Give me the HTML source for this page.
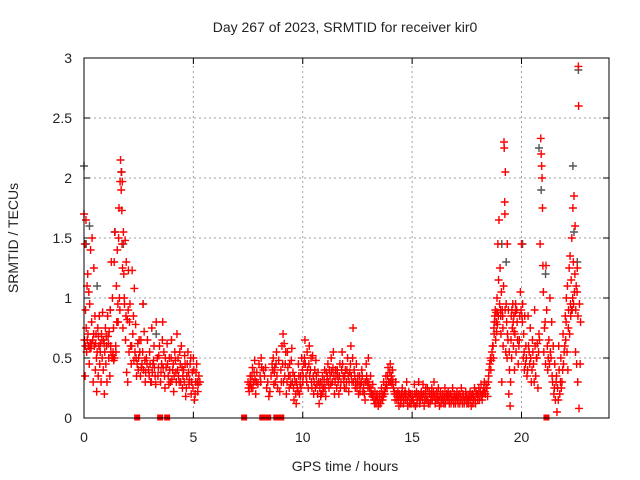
<!DOCTYPE html>
<html><head><meta charset="utf-8"><style>
html,body{margin:0;padding:0;background:#fff;}
svg{display:block;font-family:"Liberation Sans",sans-serif;}
</style></head><body>
<svg id="chart" width="640" height="480" viewBox="0 0 640 480" xmlns="http://www.w3.org/2000/svg">
<rect x="0" y="0" width="640" height="480" fill="#fff"/>
<text x="345" y="32" text-anchor="middle" font-size="14" fill="#222">Day 267 of 2023, SRMTID for receiver kir0</text>
<text x="345" y="471" text-anchor="middle" font-size="14" fill="#222">GPS time / hours</text>
<text x="18" y="238" text-anchor="middle" font-size="14" fill="#222" transform="rotate(-90 18 238)">SRMTID / TECUs</text>
<g id="grid"></g>
<g id="ticks"></g>
<g id="gray"></g>
<g id="red"></g>
<rect x="84" y="58" width="525" height="360" fill="none" stroke="#000" stroke-width="1"/>
</svg>
<script>
const xTicks=[0,5,10,15,20];
const yTicks=[0,0.5,1,1.5,2,2.5,3];
const yTickLabels=["0","0.5","1","1.5","2","2.5","3"];
const zeroTimes=[2.43,3.48,3.80,7.32,8.15,8.42,8.79,9.02,21.14];
const grayPts=[[0,2.1],[0.1,1.45],[0.25,1.6],[1.4,1.55],[1.7,2.05],[1.8,1.45],[2.7,0.95],[3.3,0.7],[19.1,1.45],[19.3,1.3],[20.05,1.45],[20.8,2.25],[20.9,1.9],[21.1,1.2],[22.35,2.1],[22.6,2.9],[22.55,1.3],[22.4,1.55],[0.6,1.1],[1.2,0.9]];
const redPts=[
[0.0,1.7],[0.02,0.65],[0.04,1.45],[0.05,0.35],[0.07,0.9],[0.09,1.65],[0.1,0.75],[0.12,0.55],[0.14,1.1],[0.15,0.65],[0.17,1.2],[0.2,0.6],[0.22,1.05],[0.24,0.45],[0.26,0.95],[0.28,0.62],[0.3,1.4],[0.32,0.58],[0.35,0.8],[0.37,1.5],[0.4,0.65],[0.42,0.3],[0.45,1.25],[0.47,0.6],[0.5,0.85],[0.52,0.4],[0.55,0.7],[0.58,0.22],[0.6,0.55],[0.63,0.75],[0.65,0.35],[0.68,0.6],[0.7,0.85],[0.72,0.45],[0.75,0.62],[0.78,0.3],[0.8,0.7],[0.83,0.5],[0.85,0.88],[0.88,0.4],[0.9,0.65],[0.93,0.2],[0.95,0.55],[0.98,0.75],[1.0,0.45],[1.03,0.6],[1.05,0.3],[1.08,0.85],[1.1,0.68],[1.13,0.5],[1.15,0.72],[1.18,0.35],[1.2,0.9],[1.23,0.55],[1.25,1.3],[1.28,0.5],[1.3,1.0],[1.33,0.55],[1.35,0.75],[1.38,1.3],[1.4,0.5],[1.42,1.55],[1.45,0.6],[1.48,1.1],[1.5,0.8],[1.52,1.4],[1.55,0.95],[1.58,1.5],[1.6,1.75],[1.62,1.0],[1.65,1.97],[1.67,2.15],[1.7,1.9],[1.72,2.05],[1.74,1.45],[1.76,1.25],[1.78,0.75],[1.8,1.55],[1.82,1.2],[1.85,0.95],[1.88,1.48],[1.9,0.65],[1.93,1.3],[1.95,0.38],[1.98,0.82],[2.0,0.3],[2.03,1.23],[2.06,0.55],[2.1,0.95],[2.13,0.6],[2.16,0.45],[2.2,1.23],[2.23,0.7],[2.26,0.85],[2.3,1.08],[2.33,0.55],[2.36,0.78],[2.4,0.35],[2.43,0.45],[2.46,0.62],[2.5,0.5],[2.55,0.55],[2.6,0.65],[2.65,0.45],[2.7,0.95],[2.72,0.4],[2.75,0.72],[2.8,0.3],[2.85,0.5],[2.9,0.65],[2.95,0.4],[3.0,0.55],[3.05,0.3],[3.1,0.75],[3.15,0.45],[3.2,0.6],[3.25,0.35],[3.3,0.8],[3.35,0.5],[3.4,0.42],[3.45,0.6],[3.5,0.3],[3.55,0.45],[3.6,0.8],[3.65,0.55],[3.7,0.25],[3.75,0.42],[3.8,0.62],[3.85,0.35],[3.9,0.5],[3.95,0.3],[4.0,0.65],[4.05,0.4],[4.1,0.22],[4.15,0.55],[4.2,0.38],[4.25,0.7],[4.3,0.5],[4.35,0.3],[4.4,0.45],[4.45,0.6],[4.5,0.25],[4.55,0.4],[4.6,0.52],[4.65,0.18],[4.7,0.35],[4.75,0.55],[4.8,0.28],[4.85,0.45],[4.9,0.2],[4.95,0.38],[5.0,0.5],[5.05,0.15],[5.1,0.3],[5.15,0.45],[5.2,0.22],[5.25,0.35],[5.3,0.3],
[7.5,0.3],[7.55,0.22],[7.6,0.35],[7.65,0.25],[7.7,0.42],[7.75,0.3],[7.8,0.48],[7.85,0.2],[7.9,0.38],[7.95,0.28],[8.0,0.45],[8.05,0.35],[8.1,0.5],[8.2,0.4],[8.25,0.35],[8.3,0.42],[8.35,0.25],[8.4,0.3],[8.45,0.18],[8.5,0.22],[8.6,0.45],[8.65,0.5],[8.7,0.38],[8.75,0.3],[8.8,0.55],[8.85,0.25],[8.9,0.48],[8.95,0.22],[9.0,0.4],[9.05,0.6],[9.1,0.7],[9.12,0.3],[9.15,0.62],[9.2,0.45],[9.25,0.2],[9.3,0.55],[9.35,0.35],[9.4,0.45],[9.45,0.28],[9.5,0.58],[9.55,0.38],[9.6,0.15],[9.65,0.3],[9.7,0.12],[9.75,0.25],[9.8,0.45],[9.85,0.2],[9.9,0.35],[9.95,0.5],[10.0,0.3],[10.05,0.45],[10.1,0.65],[10.15,0.35],[10.2,0.55],[10.25,0.25],[10.3,0.6],[10.35,0.4],[10.4,0.3],[10.45,0.52],[10.5,0.2],[10.55,0.4],[10.6,0.48],[10.65,0.28],[10.7,0.38],[10.75,0.12],[10.8,0.3],[10.85,0.2],[10.9,0.35],[10.95,0.25],[11.0,0.4],[11.05,0.18],[11.1,0.3],[11.15,0.45],[11.2,0.25],[11.25,0.35],[11.3,0.5],[11.35,0.3],[11.4,0.55],[11.45,0.2],[11.5,0.4],[11.55,0.25],[11.6,0.35],[11.65,0.2],[11.7,0.45],[11.75,0.3],[11.8,0.55],[11.85,0.35],[11.9,0.25],[11.95,0.4],[12.0,0.3],[12.05,0.5],[12.1,0.22],[12.15,0.38],[12.2,0.6],[12.25,0.3],[12.3,0.75],[12.35,0.4],[12.4,0.25],[12.45,0.45],[12.5,0.3],[12.55,0.2],[12.6,0.35],[12.65,0.28],[12.7,0.4],[12.75,0.22],[12.8,0.3],[12.85,0.15],[12.9,0.45],[12.95,0.3],[13.0,0.5],[13.05,0.25],[13.1,0.35],[13.15,0.2],[13.2,0.28],[13.25,0.15],[13.3,0.22],[13.35,0.12],[13.4,0.2],[13.45,0.1],[13.5,0.18],[13.55,0.12],[13.6,0.25],[13.65,0.15],[13.7,0.3],[13.75,0.2],[13.8,0.35],[13.85,0.25],[13.9,0.42],[13.95,0.3],[14.0,0.45],[14.05,0.35],[14.1,0.4],[14.15,0.25],[14.2,0.2],[14.25,0.3],[14.3,0.15],[14.35,0.22],[14.4,0.1],[14.45,0.18],[14.5,0.15],[14.55,0.25],[14.6,0.12],[14.65,0.2],[14.7,0.15],[14.75,0.3],[14.8,0.1],[14.85,0.22],[14.9,0.18],[14.95,0.12],[15.0,0.2],[15.05,0.15],[15.1,0.28],[15.15,0.1],[15.2,0.22],[15.25,0.15],[15.3,0.3],[15.35,0.12],[15.4,0.2],[15.45,0.18],[15.5,0.28],[15.55,0.1],[15.6,0.2],[15.65,0.15],[15.7,0.25],[15.75,0.12],[15.8,0.2],[15.85,0.15],[15.9,0.25],[15.95,0.18],[16.0,0.3],[16.05,0.12],[16.1,0.2],[16.15,0.15],[16.2,0.25],[16.25,0.1],[16.3,0.22],[16.35,0.15],[16.4,0.2],[16.45,0.12],[16.5,0.25],[16.55,0.18],[16.6,0.15],[16.65,0.22],[16.7,0.12],[16.75,0.2],[16.8,0.15],[16.85,0.25],[16.9,0.12],[16.95,0.18],[17.0,0.15],[17.05,0.22],[17.1,0.12],[17.15,0.2],[17.2,0.15],[17.25,0.25],[17.3,0.12],[17.35,0.18],[17.4,0.15],[17.45,0.22],[17.5,0.12],[17.55,0.18],[17.6,0.15],[17.65,0.22],[17.7,0.1],[17.75,0.2],[17.8,0.15],[17.85,0.25],[17.9,0.12],[17.95,0.2],[18.0,0.15],[18.05,0.25],[18.1,0.18],[18.15,0.28],[18.2,0.15],[18.25,0.22],[18.3,0.3],[18.35,0.2],[18.4,0.25],[18.45,0.18],[18.5,0.35],[18.55,0.45],[18.6,0.4],[18.65,0.55],[18.7,0.6],[18.72,0.5],[18.75,0.7],[18.78,0.85],[18.8,0.9],[18.82,0.65],[18.85,0.8],[18.88,1.0],[18.9,0.88],[18.92,1.45],[18.95,1.15],[18.97,1.65],[19.0,0.95],[19.02,1.25],[19.05,0.85],[19.08,1.05],[19.1,0.3],[19.12,0.9],[19.15,0.75],[19.18,1.1],[19.2,2.3],[19.21,2.25],[19.23,1.8],[19.24,1.7],[19.26,2.05],[19.28,0.55],[19.3,0.95],[19.32,0.8],[19.35,1.45],[19.38,0.65],[19.4,0.9],[19.42,0.2],[19.45,0.4],[19.48,0.1],[19.5,0.3],[19.53,0.85],[19.55,0.5],[19.58,0.75],[19.6,0.95],[19.63,0.6],[19.65,0.85],[19.68,0.4],[19.7,0.7],[19.73,0.95],[19.75,0.55],[19.8,0.8],[19.85,0.45],[19.9,0.65],[19.95,1.05],[20.0,1.45],[20.02,0.85],[20.05,0.95],[20.08,0.5],[20.1,0.7],[20.13,0.4],[20.15,0.85],[20.2,0.6],[20.25,0.35],[20.3,0.85],[20.35,0.55],[20.4,0.75],[20.45,0.3],[20.5,0.65],[20.55,0.45],[20.6,0.9],[20.62,0.6],[20.65,0.35],[20.7,0.5],[20.75,0.25],[20.8,0.7],[20.85,1.45],[20.88,2.33],[20.9,2.2],[20.92,2.1],[20.94,2.0],[20.96,1.75],[20.98,1.27],[21.0,1.05],[21.02,0.55],[21.05,0.75],[21.1,0.45],[21.12,1.27],[21.15,0.9],[21.2,0.4],[21.25,0.65],[21.3,1.0],[21.35,0.5],[21.38,0.8],[21.4,0.35],[21.45,0.6],[21.5,0.25],[21.52,0.45],[21.55,0.15],[21.6,0.35],[21.62,0.05],[21.65,0.25],[21.7,0.6],[21.72,0.4],[21.75,0.2],[21.8,0.5],[21.85,0.3],[21.9,0.7],[21.92,0.45],[21.95,0.55],[22.0,0.85],[22.02,0.65],[22.05,1.0],[22.08,0.55],[22.1,1.1],[22.12,0.4],[22.15,0.9],[22.18,1.25],[22.2,0.7],[22.22,1.35],[22.25,0.85],[22.27,1.15],[22.3,1.5],[22.32,0.9],[22.35,1.75],[22.37,1.3],[22.4,1.85],[22.42,1.05],[22.45,1.6],[22.47,0.55],[22.5,1.1],[22.52,0.45],[22.55,1.25],[22.57,0.3],[22.6,2.93],[22.61,2.6],[22.63,0.08],[22.65,0.95],[22.68,0.45],[22.7,0.8]
];
const redPtsExtra=[
[0.06,0.6],[0.18,0.7],[0.27,0.58],[0.33,0.62],[0.44,0.7],[0.53,0.62],[0.57,0.5],[0.66,0.68],[0.74,0.55],[0.82,0.65],[0.92,0.62],[1.02,0.68],[1.12,0.62],[1.22,0.6],[1.32,0.52],[1.36,0.48],[1.46,0.55],[1.56,0.8],[1.64,0.9],[1.73,1.73],[1.75,1.97],[1.84,1.0],[1.92,0.85],[2.02,0.9],[2.08,0.8],[2.18,0.6],[2.28,0.48],[2.38,0.5],[2.48,0.4],[2.52,0.65],[2.58,0.35],[2.62,0.42],[2.68,0.55],[2.78,0.48],[2.82,0.38],[2.88,0.45],[2.98,0.35],[3.02,0.45],[3.08,0.3],[3.12,0.38],[3.18,0.48],[3.22,0.42],[3.28,0.28],[3.38,0.35],[3.42,0.52],[3.52,0.38],[3.58,0.65],[3.62,0.42],[3.68,0.35],[3.72,0.5],[3.82,0.45],[3.88,0.28],[3.92,0.4],[3.98,0.5],[4.02,0.32],[4.08,0.45],[4.12,0.35],[4.18,0.48],[4.22,0.3],[4.28,0.4],[4.32,0.35],[4.38,0.55],[4.42,0.3],[4.48,0.42],[4.52,0.35],[4.58,0.3],[4.62,0.45],[4.68,0.25],[4.72,0.45],[4.78,0.38],[4.82,0.32],[4.88,0.5],[4.92,0.3],[4.98,0.25],[5.02,0.4],[5.08,0.2],[5.12,0.38],[5.18,0.3],[5.22,0.28],
[7.52,0.25],[7.58,0.28],[7.62,0.3],[7.68,0.35],[7.72,0.25],[7.78,0.38],[7.82,0.32],[7.88,0.3],[8.08,0.3],[8.12,0.42],[8.55,0.35],[8.62,0.4],[8.68,0.28],[8.72,0.42],[8.78,0.45],[8.82,0.35],[9.02,0.3],[9.08,0.45],[9.18,0.35],[9.22,0.55],[9.28,0.3],[9.32,0.42],[9.38,0.25],[9.42,0.35],[9.48,0.48],[9.52,0.3],[9.58,0.25],[9.62,0.35],[9.68,0.2],[9.72,0.3],[9.78,0.22],[9.82,0.35],[9.88,0.28],[9.92,0.25],[9.98,0.4],[10.02,0.35],[10.08,0.5],[10.12,0.45],[10.18,0.3],[10.22,0.4],[10.28,0.45],[10.32,0.35],[10.38,0.5],[10.42,0.25],[10.48,0.35],[10.52,0.3],[10.58,0.25],[10.62,0.35],[10.68,0.2],[10.72,0.3],[10.78,0.25],[10.82,0.18],[10.88,0.28],[10.92,0.22],[10.98,0.32],[11.02,0.25],[11.08,0.38],[11.12,0.35],[11.18,0.3],[11.22,0.4],[11.28,0.28],[11.32,0.38],[11.38,0.42],[11.42,0.35],[11.48,0.3],[11.52,0.35],[11.58,0.4],[11.62,0.3],[11.68,0.35],[11.72,0.25],[11.78,0.4],[11.82,0.45],[11.88,0.3],[11.92,0.35],[11.98,0.25],[12.02,0.4],[12.08,0.35],[12.12,0.3],[12.18,0.45],[12.22,0.35],[12.28,0.5],[12.32,0.3],[12.38,0.35],[12.42,0.3],[12.48,0.25],[12.52,0.35],[12.58,0.28],[12.62,0.22],[12.68,0.3],[12.72,0.35],[12.78,0.25],[12.82,0.2],[12.88,0.3],[12.92,0.35],[12.98,0.25],[13.02,0.3],[13.08,0.2],[13.12,0.25],[13.18,0.18],[13.22,0.2],[13.28,0.12],[13.32,0.15],[13.38,0.18],[13.42,0.15],[13.48,0.12],[13.52,0.2],[13.58,0.15],[13.62,0.2],[13.68,0.18],[13.72,0.22],[13.78,0.25],[13.82,0.28],[13.88,0.35],[13.92,0.3],[13.98,0.38],[14.02,0.3],[14.08,0.28],[14.12,0.32],[14.18,0.22],[14.22,0.15],[14.28,0.2],[14.32,0.18],[14.38,0.15],[14.42,0.2],[14.48,0.12],[14.52,0.2],[14.58,0.18],[14.62,0.15],[14.68,0.22],[14.72,0.2],[14.78,0.15],[14.82,0.18],[14.88,0.12],[14.92,0.2],[14.98,0.15],[15.02,0.18],[15.08,0.12],[15.12,0.2],[15.18,0.18],[15.22,0.12],[15.28,0.2],[15.32,0.18],[15.38,0.15],[15.42,0.22],[15.48,0.15],[15.52,0.2],[15.58,0.15],[15.62,0.25],[15.68,0.18],[15.72,0.15],[15.78,0.22],[15.82,0.12],[15.88,0.2],[15.92,0.15],[15.98,0.22],[16.02,0.18],[16.08,0.15],[16.12,0.22],[16.18,0.18],[16.22,0.15],[16.28,0.18],[16.32,0.12],[16.38,0.18],[16.42,0.15],[16.48,0.18],[16.52,0.12],[16.58,0.2],[16.62,0.18],[16.68,0.15],[16.72,0.18],[16.78,0.12],[16.82,0.18],[16.88,0.15],[16.92,0.2],[16.98,0.12],[17.02,0.18],[17.08,0.15],[17.12,0.18],[17.18,0.12],[17.22,0.18],[17.28,0.15],[17.32,0.2],[17.38,0.12],[17.42,0.15],[17.48,0.18],[17.52,0.15],[17.58,0.12],[17.62,0.18],[17.68,0.15],[17.72,0.18],[17.78,0.12],[17.82,0.18],[17.88,0.15],[17.92,0.22],[17.98,0.18],[18.02,0.2],[18.08,0.15],[18.12,0.22],[18.18,0.18],[18.22,0.2],[18.28,0.25],[18.32,0.22],[18.38,0.28],[18.42,0.25],[18.48,0.3],[18.52,0.4],[18.58,0.5],[18.62,0.48],[18.68,0.6],[18.74,0.75],[18.76,0.8],[18.84,0.88],[18.86,0.72],[18.9,0.78],[18.94,0.85],[19.04,0.9],[19.06,0.7],[19.14,0.85],[19.16,0.6],[19.25,0.9],[19.34,0.5],[19.36,0.7],[19.44,0.55],[19.52,0.65],[19.56,0.9],[19.62,0.8],[19.66,0.72],[19.72,0.88],[19.78,0.9],[19.82,0.65],[19.88,0.6],[19.92,0.85],[19.98,0.9],[20.04,0.8],[20.12,0.55],[20.18,0.45],[20.22,0.5],[20.28,0.4],[20.32,0.6],[20.38,0.45],[20.42,0.5],[20.48,0.4],[20.52,0.55],[20.58,0.3],[20.68,0.5],[20.72,0.62],[20.78,0.55],[20.82,0.65],[21.08,0.8],[21.18,0.6],[21.22,0.5],[21.28,0.45],[21.32,0.55],[21.42,0.3],[21.48,0.2],[21.58,0.3],[21.68,0.15],[21.78,0.3],[21.82,0.25],[21.88,0.4],[21.98,0.6],[22.04,0.8],[22.14,0.75],[22.24,0.95],[22.28,0.9],[22.34,1.0],[22.38,0.95],[22.44,1.2],[22.48,0.9],[22.54,1.05],[22.58,0.85]
];
const X0=84,X1=609,Y0=418,Y1=58,XMAX=24,YMAX=3;
function sx(t){return X0+(X1-X0)*t/XMAX;}
function sy(v){return Y0-(Y0-Y1)*v/YMAX;}
const NS="http://www.w3.org/2000/svg";
const grid=document.getElementById('grid'),ticks=document.getElementById('ticks');
function mk(tag,attrs,parent){const e=document.createElementNS(NS,tag);for(const k in attrs)e.setAttribute(k,attrs[k]);parent.appendChild(e);return e;}
xTicks.forEach(t=>{
  const x=sx(t);
  if(t>0){const g=mk('line',{x1:x,x2:x,y1:Y0,y2:Y1,stroke:'#a0a0a0','stroke-dasharray':'2,3'},grid);
  
  }
  const a=mk('line',{x1:x,x2:x,y1:Y0,y2:Y0-6,stroke:'#000'},ticks);
  
  
  const b=mk('line',{x1:x,x2:x,y1:Y1,y2:Y1+6,stroke:'#000'},ticks);
  
  
  const l=mk('text',{x:x,y:Y0+24,'text-anchor':'middle','font-size':'14',fill:'#222'},ticks);
  l.textContent=String(t);
  
  
});
yTicks.forEach((v,i)=>{
  const y=sy(v);
  if(v>0&&v<YMAX){const g=mk('line',{x1:X0,x2:X1,y1:y,y2:y,stroke:'#a0a0a0','stroke-dasharray':'2,3'},grid);
  
  }
  const a=mk('line',{x1:X0,x2:X0+6,y1:y,y2:y,stroke:'#000'},ticks);
  
  
  const b=mk('line',{x1:X1,x2:X1-6,y1:y,y2:y,stroke:'#000'},ticks);
  
  
  const l=mk('text',{x:X0-12,y:y+5,'text-anchor':'end','font-size':'14',fill:'#222'},ticks);
  l.textContent=yTickLabels[i];
  
  
});
function plus(p,color,parent,name){
  const x=sx(p[0]),y=sy(p[1]);
  const e=mk('path',{d:`M${x-4} ${y}h8M${x} ${y-4}v8`,stroke:color,'stroke-width':'1.4',fill:'none'},parent);
  
  
}
const grayG=document.getElementById('gray'),redG=document.getElementById('red');
grayPts.forEach(p=>plus(p,'#555',grayG,'gray-point'));
redPts.forEach(p=>plus(p,'#ff0000',redG,'red-point'));
redPtsExtra.forEach(p=>plus(p,'#ff0000',redG,'red-point'));
zeroTimes.forEach(t=>{
  const r=mk('rect',{x:sx(t)-3,y:sy(0)-3.5,width:6,height:6,fill:'#ff0000'},redG);
  
  
});
</script>
</body></html>
